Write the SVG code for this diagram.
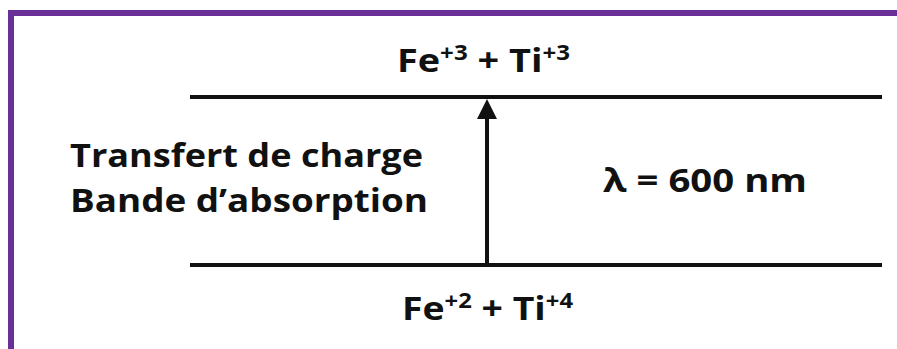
<svg xmlns="http://www.w3.org/2000/svg" width="897" height="349" viewBox="0 0 897 349">
<style>
.t{font-family:"Open Sans","Liberation Sans",Arial,sans-serif;font-weight:bold;fill:#111;font-size:33px}
.s{font-size:21px}
.ln{stroke:#111;stroke-width:4;fill:none}
</style>
<defs>
<marker id="ah" markerWidth="5" markerHeight="5" refX="4" refY="2.5" orient="auto" markerUnits="strokeWidth">
<path d="M0,0 L5,2.5 L0,5 z" fill="#111"/>
</marker>
</defs>
<rect width="897" height="349" fill="#fff"/>
<g id="frame">
<rect x="8" y="10" width="889" height="6" fill="#6b2f98"/>
<rect x="8" y="10" width="6" height="339" fill="#6b2f98"/>
</g>
<g id="upper"><line class="ln" x1="190" y1="97" x2="882" y2="97"/><text class="t" x="397" y="72" textLength="173" lengthAdjust="spacingAndGlyphs">Fe<tspan class="s" dy="-12">+3</tspan><tspan dy="12"> + Ti</tspan><tspan class="s" dy="-12">+3</tspan></text></g>
<g id="lower"><line class="ln" x1="190" y1="265" x2="882" y2="265"/><text class="t" x="402" y="320" textLength="171" lengthAdjust="spacingAndGlyphs">Fe<tspan class="s" dy="-12">+2</tspan><tspan dy="12"> + Ti</tspan><tspan class="s" dy="-12">+4</tspan></text></g>
<g id="connectors">
<line class="ln" x1="487" y1="265" x2="487" y2="103" marker-end="url(#ah)"/>
</g>
<g id="label-left">
<text class="t" x="70" y="167" textLength="353" lengthAdjust="spacingAndGlyphs">Transfert de charge</text>
<text class="t" x="70" y="212" textLength="358" lengthAdjust="spacingAndGlyphs">Bande d’absorption</text>
</g>
<g id="label-right">
<text class="t" x="603" y="192" textLength="204" lengthAdjust="spacingAndGlyphs">λ = 600 nm</text>
</g>
</svg>
